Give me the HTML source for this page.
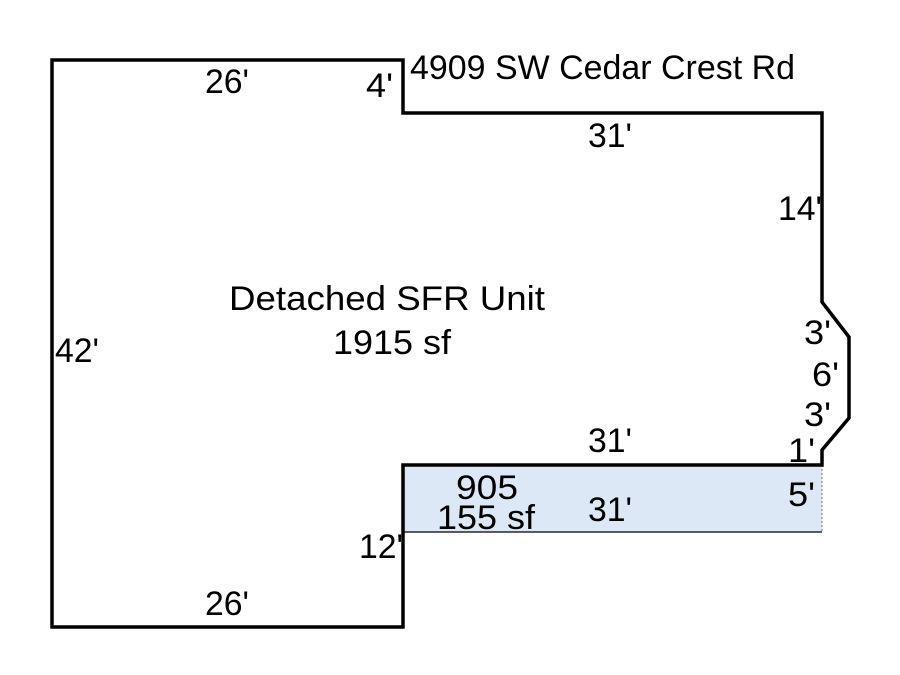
<!DOCTYPE html>
<html><head><meta charset="utf-8"><style>
html,body{margin:0;padding:0;background:#fff;width:900px;height:675px;overflow:hidden}
svg text{font-family:"Liberation Sans",Arial,sans-serif;fill:#000}
</style></head><body>
<svg width="900" height="675" viewBox="0 0 900 675" xmlns="http://www.w3.org/2000/svg">
<rect x="403" y="465" width="419" height="67" fill="#dce8f5"/>
<line x1="403" y1="532" x2="822" y2="532" stroke="#000" stroke-width="1.2"/>
<line x1="822" y1="465" x2="822" y2="532" stroke="#777" stroke-width="1" stroke-dasharray="2,2"/>
<polygon points="52,60 403,60 403,113 822,113 822,302 849,337 849,418 822,450 822,465 403,465 403,627 52,627" fill="none" stroke="#000" stroke-width="3.5" stroke-linejoin="miter"/>
<g font-size="34" lengthAdjust="spacingAndGlyphs">
<text x="410" y="79" textLength="385" lengthAdjust="spacingAndGlyphs">4909 SW Cedar Crest Rd</text>
<text x="205" y="93" textLength="44" lengthAdjust="spacingAndGlyphs">26'</text>
<text x="366" y="97" textLength="27" lengthAdjust="spacingAndGlyphs">4'</text>
<text x="588" y="147" textLength="44" lengthAdjust="spacingAndGlyphs">31'</text>
<text x="778" y="220" textLength="44" lengthAdjust="spacingAndGlyphs">14'</text>
<text x="229" y="310" textLength="316" lengthAdjust="spacingAndGlyphs">Detached SFR Unit</text>
<text x="333" y="354" textLength="118" lengthAdjust="spacingAndGlyphs">1915 sf</text>
<text x="55" y="362" textLength="44" lengthAdjust="spacingAndGlyphs">42'</text>
<text x="804" y="344" textLength="27" lengthAdjust="spacingAndGlyphs">3'</text>
<text x="812" y="386" textLength="27" lengthAdjust="spacingAndGlyphs">6'</text>
<text x="804" y="426" textLength="27" lengthAdjust="spacingAndGlyphs">3'</text>
<text x="788" y="462" textLength="27" lengthAdjust="spacingAndGlyphs">1'</text>
<text x="588" y="452" textLength="44" lengthAdjust="spacingAndGlyphs">31'</text>
<text x="456" y="499" textLength="62" lengthAdjust="spacingAndGlyphs">905</text>
<text x="437" y="529" textLength="98" lengthAdjust="spacingAndGlyphs">155 sf</text>
<text x="588" y="521" textLength="44" lengthAdjust="spacingAndGlyphs">31'</text>
<text x="788" y="506" textLength="27" lengthAdjust="spacingAndGlyphs">5'</text>
<text x="359" y="558" textLength="44" lengthAdjust="spacingAndGlyphs">12'</text>
<text x="205" y="615" textLength="44" lengthAdjust="spacingAndGlyphs">26'</text>
</g>
</svg>
</body></html>
